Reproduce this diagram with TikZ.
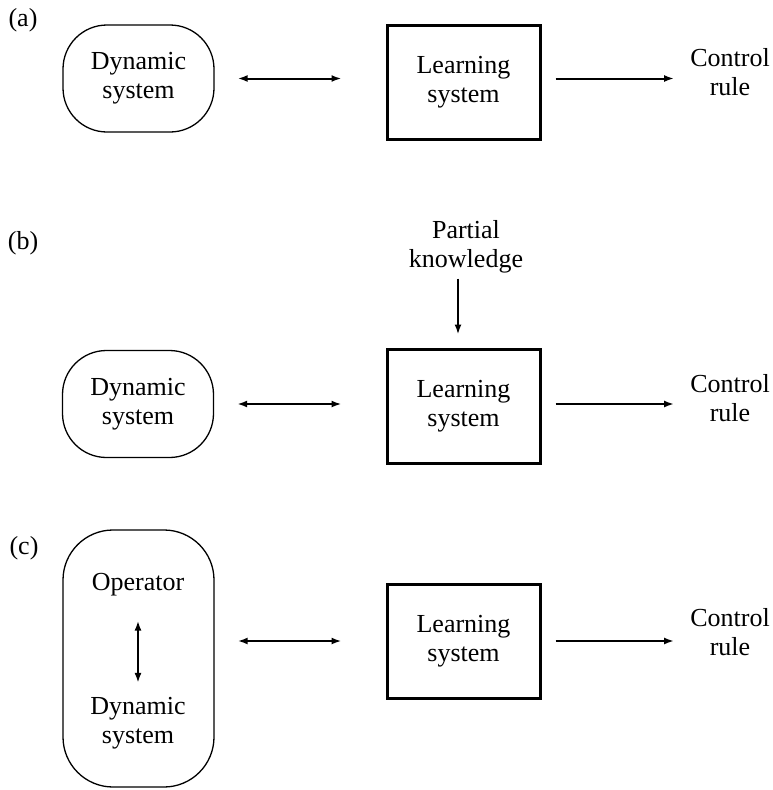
\documentclass[tikz,border=0pt]{standalone}
\usepackage{fontspec}
\setmainfont{Liberation Serif}
\usepackage{tikz}
\usetikzlibrary{arrows.meta,positioning,calc}

\begin{document}
\begin{tikzpicture}[x=1pt,y=-1pt,
  every node/.style={font=\fontsize{26}{29}\selectfont,align=center,inner sep=0pt},
  oval/.style={draw,line width=1.3pt,minimum width=151pt,minimum height=107pt,rounded corners=44pt},
  learnbox/.style={draw,line width=3pt,minimum width=153pt,minimum height=114pt},
  arr/.style={line width=2pt,-{Latex[length=10pt,width=7pt]}},
  darr/.style={line width=2pt,{Latex[length=10pt,width=7pt]}-{Latex[length=10pt,width=7pt]}}]
  \useasboundingbox (0,0) rectangle (773,790);
  % (a)
  \node (labA) at (23,20) {(a)};
  \node[oval] (dynA) at (138.5,78.5) {Dynamic\\system};
  \node[learnbox] (learnA) at (463.5,82) {Learning\\system};
  \node (ctrlA) at (730,72) {Control\\rule};
  \draw[darr,shorten <=23pt,shorten >=44pt] (dynA.east) -- (dynA.east -| learnA.west);
  \draw[arr,shorten <=14pt,shorten >=16pt] (learnA.east |- dynA.east) -- (ctrlA.west |- dynA.east);
  % (b)
  \node (labB) at (23,243) {(b)};
  \node (know) at (466,247) {Partial\\knowledge};
  \node[oval] (dynB) at (138,404) {Dynamic\\system};
  \node[learnbox] (learnB) at (463.5,406) {Learning\\system};
  \node (ctrlB) at (730,398) {Control\\rule};
  \draw[arr,shorten <=5pt,shorten >=13pt] ([xshift=-8pt]know.south) -- ([xshift=-8pt]know.south |- learnB.north);
  \draw[darr,shorten <=23pt,shorten >=44pt] (dynB.east) -- (dynB.east -| learnB.west);
  \draw[arr,shorten <=14pt,shorten >=16pt] (learnB.east |- dynB.east) -- (ctrlB.west |- dynB.east);
  % (c)
  \node (labC) at (24,548) {(c)};
  \node[oval,minimum height=257pt,rounded corners=50pt] (ovC) at (138.5,658.5) {};
  \node (oper) at (138,585) {Operator};
  \node (dynC) at (138,723) {Dynamic\\system};
  \node[learnbox] (learnC) at (463.5,641) {Learning\\system};
  \node (ctrlC) at (730,632) {Control\\rule};
  \draw[darr,shorten <=24pt,shorten >=14pt] (oper.south) -- (dynC.north);
  \draw[darr,line width=2.5pt,shorten <=23pt,shorten >=44pt] (ovC.east |- learnC.west) -- (learnC.west);
  \draw[arr,line width=2.5pt,shorten <=14pt,shorten >=16pt] (learnC.east) -- (learnC.east -| ctrlC.west);
\end{tikzpicture}
\end{document}
